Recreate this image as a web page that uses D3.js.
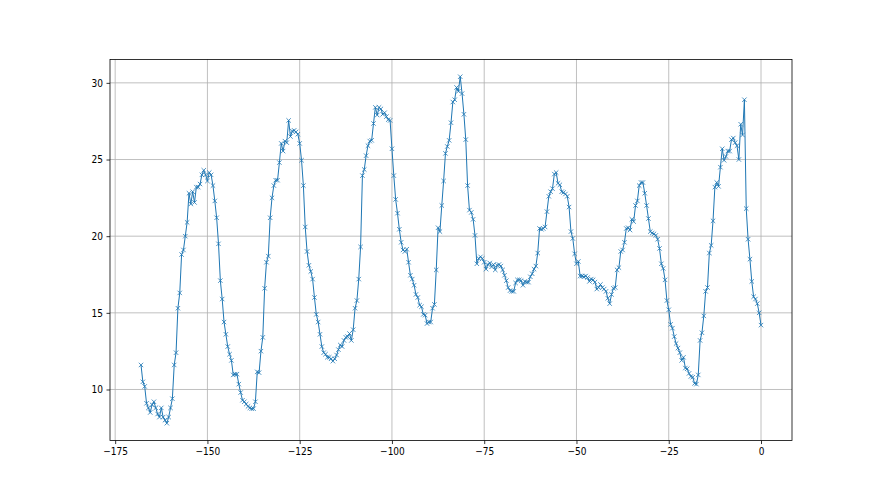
<!DOCTYPE html>
<html>
<head>
<meta charset="utf-8">
<script src="https://cdn.jsdelivr.net/npm/d3@7"></script>
<style>
  body { margin: 0; background: #fff; }
  text { font-family: "DejaVu Sans Condensed", "DejaVu Sans", sans-serif; }
</style>
</head>
<body>
<svg id="chart" width="880" height="495"></svg>
<script>
// hours relative to now, half-hour samples
const hours = d3.range(-168, 0.25, 0.5);
const values = [
  11.6,10.5,10.2,9.1,8.8,8.5,9.0,9.2,8.8,8.4,
  8.2,8.8,8.2,8.0,7.8,8.2,8.8,9.4,11.6,12.4,
  15.3,16.3,18.8,19.1,20.0,20.9,22.8,22.1,22.9,22.2,
  23.2,23.2,23.4,24.0,24.3,24.0,23.6,24.15,24.0,23.3,
  22.3,21.2,19.5,17.1,15.9,14.4,13.6,12.8,12.3,11.9,
  10.95,11.0,11.0,10.35,9.8,9.3,9.2,9.05,8.9,8.8,
  8.75,8.75,9.2,11.15,11.1,12.5,13.4,16.6,18.3,18.7,
  21.2,22.5,23.3,23.65,23.65,24.8,26.05,25.55,26.2,26.1,
  27.55,26.5,26.85,26.9,26.8,26.65,26.05,24.95,23.3,20.6,
  19.0,18.1,17.7,17.2,16.0,14.9,14.4,13.6,12.8,12.4,
  12.3,12.1,12.1,12.0,11.85,12.0,12.25,12.6,12.9,12.8,
  13.2,13.4,13.45,13.65,13.2,13.9,15.3,15.8,17.2,19.3,
  23.95,24.35,25.25,25.9,26.2,26.25,27.35,28.4,27.9,28.4,
  28.3,27.95,28.05,27.8,27.6,27.55,25.7,23.95,22.4,21.5,
  20.45,19.6,19.1,19.0,19.15,18.3,17.45,17.2,16.8,16.2,
  16.0,15.5,15.4,14.9,14.85,14.3,14.4,14.4,15.3,15.55,
  17.8,20.55,20.3,22.0,23.6,25.4,25.85,26.25,27.4,28.75,
  28.9,29.7,29.45,30.4,29.3,27.95,26.3,23.3,21.7,21.55,
  21.1,20.05,18.2,18.55,18.65,18.55,18.3,17.85,18.15,18.25,
  18.0,18.15,17.8,18.1,18.15,18.05,17.8,17.45,17.1,16.65,
  16.45,16.4,16.4,16.95,17.15,17.15,17.1,16.8,17.05,17.0,
  17.0,17.35,17.55,17.85,18.05,18.9,20.5,20.45,20.5,20.6,
  21.6,22.6,22.9,23.1,24.05,24.15,23.45,23.35,22.9,22.85,
  22.75,22.6,21.9,20.3,19.85,18.85,18.2,18.35,17.4,17.4,
  17.35,17.4,17.3,17.05,17.2,17.15,17.0,16.55,16.65,16.85,
  16.65,16.55,16.4,15.95,15.6,16.2,16.6,16.65,17.8,17.95,
  19.0,19.1,19.6,20.5,20.55,20.4,21.1,20.95,22.0,22.3,
  23.3,23.5,23.5,22.8,22.0,21.15,20.3,20.2,20.15,20.05,
  19.8,19.2,18.2,17.9,17.15,15.8,15.2,14.25,14.0,13.45,
  13.0,12.7,12.4,11.9,12.1,11.4,11.35,11.05,10.85,10.8,
  10.4,10.35,10.95,13.2,13.7,14.8,16.4,16.65,18.9,19.4,
  21.0,23.2,23.5,23.25,24.5,25.7,24.95,25.2,25.55,25.55,
  26.3,26.4,26.1,25.9,25.0,27.3,26.6,28.9,21.8,19.8,
  18.5,17.05,16.05,15.9,15.6,15.0,14.2
];
const xTicks = [-175, -150, -125, -100, -75, -50, -25, 0];
const yTicks = [10, 15, 20, 25, 30];

const data = hours.map((h, i) => ({ x: h, y: values[i] }));

const W = 880, H = 495;
const mL = 110, mR = 792, mT = 59.4, mB = 440.55;

function padded(ext) {
  const r = ext[1] - ext[0];
  return [ext[0] - 0.05 * r, ext[1] + 0.05 * r];
}
const x = d3.scaleLinear().domain(padded(d3.extent(hours))).range([mL, mR]);
const y = d3.scaleLinear().domain(padded(d3.extent(values))).range([mB, mT]);

const svg = d3.select("#chart");
svg.append("rect").attr("width", W).attr("height", H).attr("fill", "#fff");

// grid
const grid = svg.append("g");
grid.selectAll(".gx").data(xTicks).join("line")
  .attr("x1", d => x(d)).attr("x2", d => x(d))
  .attr("y1", mT).attr("y2", mB)
  .attr("stroke", "#b0b0b0").attr("stroke-width", 0.8);
grid.selectAll(".gy").data(yTicks).join("line")
  .attr("x1", mL).attr("x2", mR)
  .attr("y1", d => y(d)).attr("y2", d => y(d))
  .attr("stroke", "#b0b0b0").attr("stroke-width", 0.8);

// line
const line = d3.line().x(d => x(d.x)).y(d => y(d.y));
svg.append("path").datum(data)
  .attr("d", line)
  .attr("fill", "none")
  .attr("stroke", "#1f77b4")
  .attr("stroke-width", 1.0)
  .attr("stroke-linejoin", "round");

// markers
const s = 2.2;
svg.append("g").selectAll("path").data(data).join("path")
  .attr("transform", d => `translate(${x(d.x)},${y(d.y)})`)
  .attr("d", `M${-s},${-s}L${s},${s}M${-s},${s}L${s},${-s}`)
  .attr("stroke", "#1f77b4")
  .attr("stroke-width", 0.8)
  .attr("fill", "none");

// axes
const xAxis = d3.axisBottom(x).tickValues(xTicks).tickSize(3.5).tickPadding(3.5).tickSizeOuter(0);
const yAxis = d3.axisLeft(y).tickValues(yTicks).tickSize(3.5).tickPadding(3.5).tickSizeOuter(0);

const gx = svg.append("g").attr("transform", `translate(0,${mB})`).call(xAxis);
const gy = svg.append("g").attr("transform", `translate(${mL},0)`).call(yAxis);
[gx, gy].forEach(g => {
  g.select(".domain").remove();
  g.selectAll(".tick line").attr("stroke", "#000").attr("stroke-width", 0.8);
  g.selectAll(".tick text").attr("fill", "#000").style("font-size", "10px")
    .style("font-family", "\"DejaVu Sans Condensed\", \"DejaVu Sans\", sans-serif");
});

// spines
svg.append("rect")
  .attr("x", mL).attr("y", mT)
  .attr("width", mR - mL).attr("height", mB - mT)
  .attr("fill", "none").attr("stroke", "#000").attr("stroke-width", 0.8);
</script>
</body>
</html>
